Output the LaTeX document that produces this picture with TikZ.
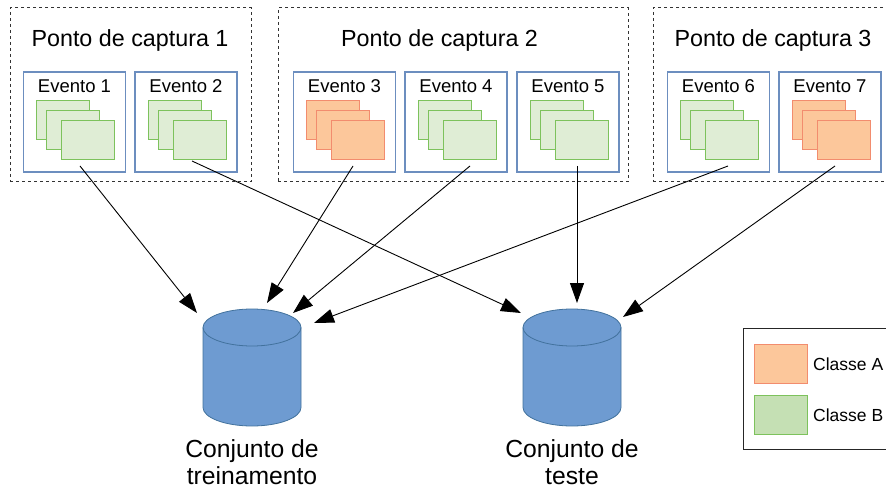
\documentclass[tikz,border=0pt]{standalone}
\usepackage{fontspec}
\setmainfont{Liberation Sans}
\usetikzlibrary{arrows.meta,calc}
\definecolor{verdeF}{HTML}{DFEDD5}
\definecolor{verdeD}{HTML}{7DC25C}
\definecolor{laranjaF}{HTML}{FCC79B}
\definecolor{laranjaD}{HTML}{F28C6E}
\definecolor{azulD}{HTML}{6C8EBF}
\definecolor{bancoF}{HTML}{6E9BD1}
\definecolor{bancoD}{HTML}{41719C}
\definecolor{legVerdeF}{HTML}{C5E0B4}
\newcommand{\desenhabanco}[1]{%
\filldraw[fill=bancoF,draw=bancoD,line width=0.8pt] ($(#1.north west)+(0,-18.5)$) -- ($(#1.south west)+(0,18.5)$) arc[start angle=180,end angle=360,x radius=49,y radius=18.5] -- ($(#1.north east)+(0,-18.5)$) arc[start angle=0,end angle=180,x radius=49,y radius=18.5] -- cycle;
\draw[bancoD,line width=0.8pt] ($(#1.north west)+(0,-18.5)$) arc[start angle=180,end angle=360,x radius=49,y radius=18.5];
}
\begin{document}
\begin{tikzpicture}[x=1pt,y=1pt,
ponto/.style={draw=black!80,line width=1pt,dash pattern=on 3pt off 3pt,minimum height=174pt,outer sep=0pt},
evento/.style={draw=azulD,line width=1.1pt,minimum width=102pt,minimum height=100pt,outer sep=0pt},
seta/.style={line width=0.9pt,-{Triangle[length=20pt,width=14pt]}},
banco/.style={minimum width=98pt,minimum height=117pt,outer sep=0pt},
titulo/.style={font=\fontsize{23.3}{28}\selectfont,anchor=base},
rotulo/.style={font=\fontsize{18.5}{22}\selectfont,anchor=base},
nomebanco/.style={font=\fontsize{24.7}{29}\selectfont,anchor=base},
legtexto/.style={font=\fontsize{17.5}{21}\selectfont,anchor=base west,inner sep=0pt},
amostra/.style={line width=1pt,minimum width=53pt,minimum height=39pt,outer sep=0pt}]
\useasboundingbox (0,0) rectangle (886,-489);

\node[ponto,minimum width=241pt] (p1) at (130.5,-95) {};
\node[ponto,minimum width=350pt] (p2) at (453,-95) {};
\node[ponto,minimum width=247pt] (p3) at (776.5,-95) {};
\node[titulo] (t1) at (130,-47) {Ponto de captura 1};
\node[titulo] (t2) at (439.5,-47) {Ponto de captura 2};
\node[titulo] (t3) at (773,-47) {Ponto de captura 3};

\foreach \i/\x/\cor in {1/74.5/verde,2/186/verde,3/344.5/laranja,4/456/verde,5/568/verde,6/718.5/verde,7/830/laranja}{
  \node[evento] (ev\i) at (\x,-122) {};
  \node[rotulo] (r\i) at ([yshift=-21pt]ev\i.north) {Evento \i};
  \foreach \dx/\dy in {13/29,23/39,38/49}
    \draw[line width=1pt,fill=\cor F,draw=\cor D] ([shift={(\dx,-\dy)}]ev\i.north west) rectangle ++(53,-39);
}

\node[banco] (treino) at (252,-367.5) {};
\node[banco] (teste) at (572,-367.5) {};
\desenhabanco{treino}
\desenhabanco{teste}
\node[nomebanco] (n1) at (252,-457) {Conjunto de};
\node[nomebanco] (n2) at (252,-484) {treinamento};
\node[nomebanco] (n3) at (572,-457) {Conjunto de};
\node[nomebanco] (n4) at (572,-484) {teste};

\foreach \e/\b/\ax/\ay/\bx/\by in {1/treino/5.5/6/-55/-4,2/teste/6/11/-51/-4,3/treino/8.5/6/15/6,4/treino/14/6/41/-4,5/teste/9/6/5/6,6/treino/9.5/6/62/-14,7/teste/5/6/51/-8}
  \draw[seta] ([shift={(\ax,\ay)}]ev\e.south) -- ([shift={(\bx,\by)}]\b.north);

\draw[draw=black!85,line width=0.9pt] (743,-328) rectangle (900,-449);
\node[amostra,fill=laranjaF,draw=laranjaD] (ca) at (780.5,-363.5) {};
\node[amostra,fill=legVerdeF,draw=verdeD] (cb) at (780.5,-414.5) {};
\node[legtexto] (la) at (813,-370) {Classe A};
\node[legtexto] (lb) at (813,-421) {Classe B};
\end{tikzpicture}
\end{document}
